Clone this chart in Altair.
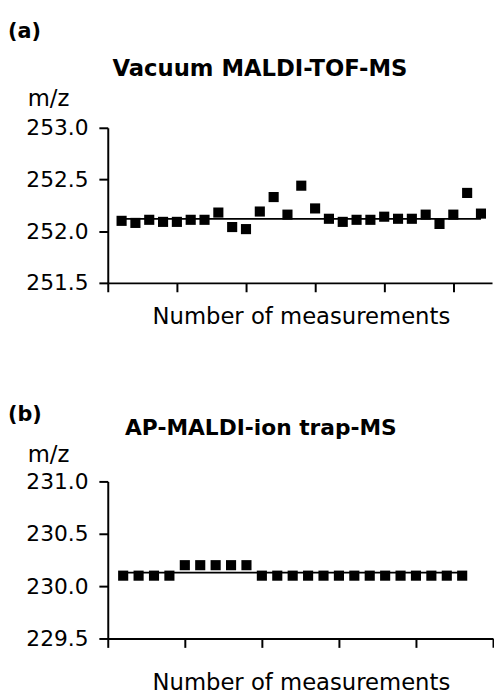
import altair as alt
import pandas as pd

FONT = "DejaVu Sans"

# ---- Panel (a): Vacuum MALDI-TOF-MS ----
a_tag = "(a)"
a_title = "Vacuum MALDI-TOF-MS"
a_n = [1, 2, 3, 4, 5, 6, 7, 8, 9, 10, 11, 12, 13, 14, 15, 16, 17, 18, 19, 20,
       21, 22, 23, 24, 25, 26, 27]
a_mz = [252.10, 252.08, 252.11, 252.09, 252.09, 252.11, 252.11, 252.18, 252.04,
        252.02, 252.19, 252.33, 252.16, 252.44, 252.22, 252.12, 252.09, 252.11,
        252.11, 252.14, 252.12, 252.12, 252.16, 252.07, 252.16, 252.37, 252.17]
a_line = 252.12
a_xmax = 27.8
a_ydomain = [251.5, 253.0]
a_yticks = [251.5, 252.0, 252.5, 253.0]

# ---- Panel (b): AP-MALDI-ion trap-MS ----
b_tag = "(b)"
b_title = "AP-MALDI-ion trap-MS"
b_n = [1, 2, 3, 4, 5, 6, 7, 8, 9, 10, 11, 12, 13, 14, 15, 16, 17, 18, 19, 20,
       21, 22, 23]
b_mz = [230.10, 230.10, 230.10, 230.10, 230.20, 230.20, 230.20, 230.20, 230.20,
        230.10, 230.10, 230.10, 230.10, 230.10, 230.10, 230.10, 230.10, 230.10,
        230.10, 230.10, 230.10, 230.10, 230.10]
b_line = 230.13
b_xmax = 25
b_ydomain = [229.5, 231.0]
b_yticks = [229.5, 230.0, 230.5, 231.0]

x_ticks = [0, 5, 10, 15, 20, 25]
y_label = "m/z"
x_label = "Number of measurements"


def text_layer(txt, x, y, size, bold=False, align="left"):
    return alt.Chart(pd.DataFrame({"t": [txt]})).mark_text(
        font=FONT, fontSize=size, fontWeight="bold" if bold else "normal",
        align=align, baseline="alphabetic", color="black"
    ).encode(x=alt.value(x), y=alt.value(y), text="t:N")


def panel(ns, vals, line_val, xmax, ydom, yticks, w, h, tag, title,
          tag_y, title_x, title_y, title_size, mz_y, xt_y, anchor=False):
    xsc = alt.Scale(domain=[0, xmax], nice=False, zero=False)
    ysc = alt.Scale(domain=ydom, nice=False, zero=False)
    xax = alt.Axis(values=x_ticks, labels=False, title=None, grid=False)
    yax = alt.Axis(values=yticks, format=".1f", title=None, grid=False)
    df = pd.DataFrame({"n": ns, "mz": vals})
    ldf = pd.DataFrame({"start": [ns[0]], "end": [ns[-1]], "mz": [line_val]})
    rule = alt.Chart(ldf).mark_rule(color="black", strokeWidth=1.8).encode(
        x=alt.X("start:Q", scale=xsc, axis=xax), x2="end:Q",
        y=alt.Y("mz:Q", scale=ysc, axis=yax))
    pts = alt.Chart(df).mark_square(size=105, color="black", opacity=1).encode(
        x=alt.X("n:Q", scale=xsc, axis=xax),
        y=alt.Y("mz:Q", scale=ysc, axis=yax))
    layers = [rule, pts,
              text_layer(tag, -101, tag_y, 21, bold=True),
              text_layer(title, title_x, title_y, title_size, bold=True,
                         align="center"),
              text_layer(y_label, -81, mz_y, 23),
              text_layer(x_label, 196, xt_y, 23, align="center")]
    if anchor:
        layers.append(alt.Chart(pd.DataFrame({"a": [0]})).mark_rule(
            strokeWidth=0, opacity=0).encode(
            x=alt.value(-101), x2=alt.value(-101),
            y=alt.value(-117), y2=alt.value(-117)))
    return alt.layer(*layers).properties(width=w, height=h)


pa = panel(a_n, a_mz, a_line, a_xmax, a_ydomain, a_yticks, 389, 157,
           a_tag, a_title, -91, 154, -52, 23, -22, 199, anchor=True)
pb = panel(b_n, b_mz, b_line, b_xmax, b_ydomain, b_yticks, 390, 159,
           b_tag, b_title, -61, 155, -47, 22, -20, 211)

chart = alt.vconcat(pa, pb, spacing=201, bounds="flush").properties(
    padding=0
).configure_view(stroke=None).configure_axis(
    domainColor="black", domainWidth=2, tickColor="black", tickWidth=2,
    tickSize=9, labelFont=FONT, labelFontSize=22, labelColor="black",
    labelPadding=11
)

chart.save("out.html", embed_options={"renderer": "svg", "actions": False})
